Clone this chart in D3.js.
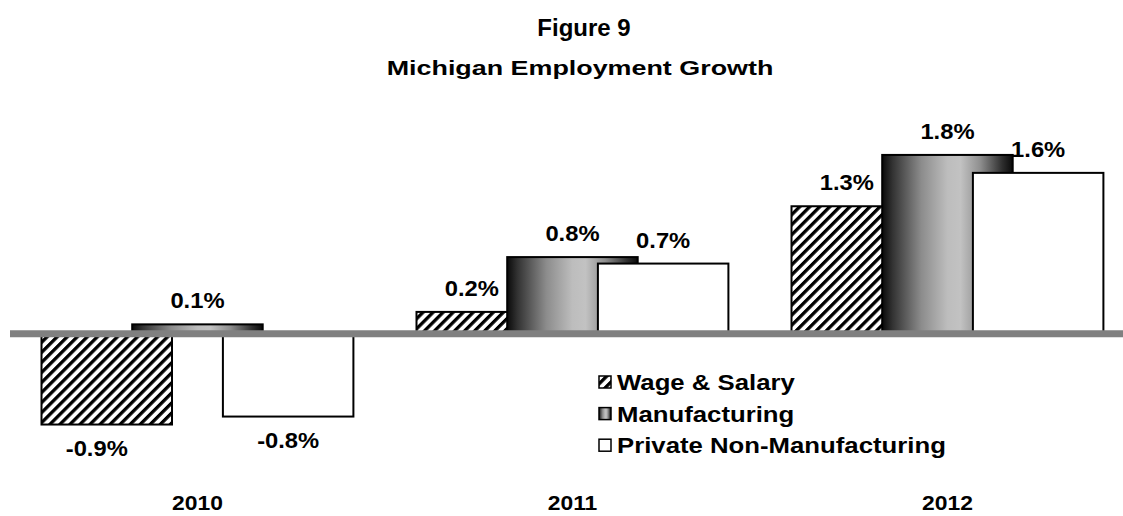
<!DOCTYPE html>
<html><head><meta charset="utf-8">
<script src="https://cdn.jsdelivr.net/npm/d3@7"></script>
<style>
html,body{margin:0;padding:0;background:#fff;}
svg{display:block;font-family:Arial,"Liberation Sans",sans-serif;font-weight:bold;}
</style></head>
<body>
<script>
const years = ["2010", "2011", "2012"];
const seriesNames = ["Wage & Salary", "Manufacturing", "Private Non-Manufacturing"];
const wageSalary = [-0.91, 0.22, 1.28];
const manufacturing = [0.095, 0.77, 1.795];
const privateNonMfg = [-0.83, 0.705, 1.615];
const titleText = "Figure 9";
const subtitleText = "Michigan Employment Growth";

const W = 1123, H = 516;
const svg = d3.select("body").append("svg").attr("width", W).attr("height", H);
const defs = svg.append("defs");

// hatch pattern
const pat = defs.append("pattern").attr("id", "hatch").attr("patternUnits", "userSpaceOnUse")
  .attr("width", 7.1).attr("height", 7.1).attr("patternTransform", "rotate(45)");
pat.append("rect").attr("width", 7.1).attr("height", 7.1).attr("fill", "#fff");
pat.append("rect").attr("width", 3.3).attr("height", 7.1).attr("fill", "#000");

// gradient
const grad = defs.append("linearGradient").attr("id", "mgrad").attr("x1", "0").attr("x2", "1").attr("y1", "0").attr("y2", "0");
[[0, "#0a0a0a"], [0.08, "#333"], [0.3, "#8c8c8c"], [0.5, "#bdbdbd"], [0.6, "#c2c2c2"], [0.75, "#8f8f8f"], [0.92, "#2e2e2e"], [1, "#0a0a0a"]]
  .forEach(([o, c]) => grad.append("stop").attr("offset", o).attr("stop-color", c));

const fills = ["url(#hatch)", "url(#mgrad)", "#fff"];
const seriesData = [wageSalary, manufacturing, privateNonMfg];

const x = d3.scaleBand().domain(years).range([10, 1135]);
const sx = d3.scalePoint().domain(seriesNames).range([31.5, 31.5 + 2 * 90.7]);
const barW = 130.5;
const y = d3.scaleLinear().domain([-1, 2]).range([433.5, 134.5]);
const fmt = v => (v < 0 ? "-" : "") + d3.format(".1f")(Math.abs(v)) + "%";

function stretchText(sel, px, py, size, sxf, anchor, txt) {
  return sel.append("text")
    .attr("transform", `translate(${px},${py}) scale(${sxf},1)`)
    .attr("text-anchor", anchor).attr("font-size", size).text(txt);
}

// titles
stretchText(svg, 584, 36, 24, 1, "middle", titleText);
stretchText(svg, 580, 75, 21, 1.28, "middle", subtitleText);

// bars
const g = svg.append("g");
seriesNames.forEach((s, i) => {
  g.selectAll(null).data(years.map((yr, j) => ({ yr, v: seriesData[i][j] }))).enter().append("rect")
    .attr("x", d => x(d.yr) + sx(s))
    .attr("width", barW)
    .attr("y", d => y(Math.max(0, d.v)))
    .attr("height", d => Math.abs(y(d.v) - y(0)))
    .attr("fill", fills[i])
    .attr("stroke", "#000").attr("stroke-width", 2);
});

// zero band
svg.append("line").attr("x1", 10).attr("x2", W).attr("y1", y(0)).attr("y2", y(0))
  .attr("stroke", "#808080").attr("stroke-width", 7);

// value labels
const labelDx = [-10, 0, 0];
seriesNames.forEach((s, i) => {
  years.forEach((yr, j) => {
    const v = seriesData[i][j];
    stretchText(svg, x(yr) + sx(s) + barW / 2 + labelDx[i],
      v >= 0 ? y(v) - 16 : y(v) + 31, 22, 1.08, "middle", fmt(v));
  });
});

// category labels
years.forEach(yr => stretchText(svg, x(yr) + x.bandwidth() / 2, 510, 21, 1.09, "middle", yr));

// legend
const lg = svg.append("g").attr("transform", "translate(599,0)");
seriesNames.forEach((s, i) => {
  const by = 390 + i * 31.6;
  lg.append("rect").attr("x", 0).attr("y", by - 14).attr("width", 12).attr("height", 12)
    .attr("fill", fills[i]).attr("stroke", "#000").attr("stroke-width", 1.5);
  stretchText(lg, 18, by, 22, 1.17, "start", s);
});
</script>
</body></html>
